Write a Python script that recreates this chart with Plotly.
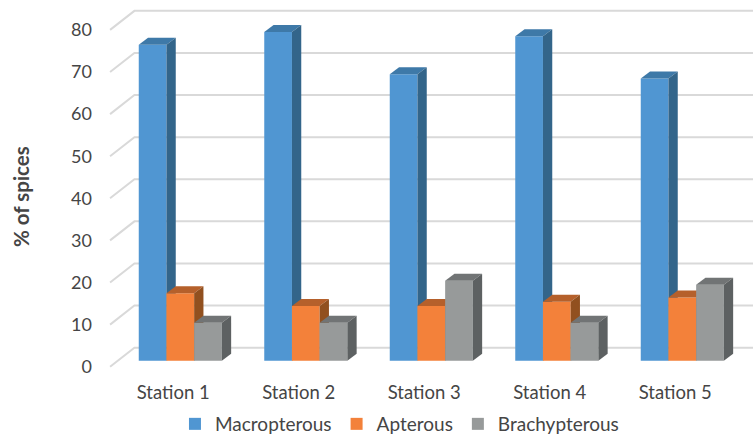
import plotly.graph_objects as go

stations = ["Station 1", "Station 2", "Station 3", "Station 4", "Station 5"]
macropterous = [75, 78, 68, 77, 67]
apterous = [16, 13, 13, 14, 15]
brachypterous = [9, 9, 19, 9, 18]
y_ticks = [0, 10, 20, 30, 40, 50, 60, 70, 80]

series = [
    ("Macropterous", macropterous, "#5096D2", "#3E79A8", "#33658A", -1),
    ("Apterous", apterous, "#F3813A", "#B5602B", "#91501F", 0),
    ("Brachypterous", brachypterous, "#979A9A", "#717475", "#5D6162", 1),
]

BAR_W = 0.2207      # bar width, in category units
DEPTH_X = 0.0741    # receding offset of a bar, in category units
DEPTH_Y = 1.66      # receding offset of a bar, in value units
WALL_X0, WALL_X1 = -0.503, -0.309   # front and back of the floor edge
WALL_RISE = 4.52                    # rise of a gridline from front to back
LAST_X = 4.7

MB = 65
PLOT_H = 437 - MB
# Base scale: tick labels and wall gridlines
X_BASE = [-173.2 / 125.5, (753 - 173.2) / 125.5]
Y_BASE = [(366.7 - PLOT_H) / 4.21, 366.7 / 4.21]
# Bar scale: the front faces sit slightly in front of the wall
X_BAR = [-180.3 / 125.5, (753 - 180.3) / 125.5]
Y_BAR = [(360.7 - PLOT_H) / 4.213, 360.7 / 4.213]

fig = go.Figure()

# Wall gridlines: a slanted run on the side wall, then flat along the back
for v in y_ticks:
    fig.add_trace(go.Scatter(
        x=[WALL_X0, WALL_X1, LAST_X],
        y=[v, v + WALL_RISE, v + WALL_RISE],
        mode="lines",
        line=dict(color="#D9D9D9", width=2),
        showlegend=False, hoverinfo="skip",
    ))

# Each series gets its own overlaid axes so later series paint over earlier ones
for n, (name, values, front, top, side, slot) in enumerate(series):
    ax = n + 2
    xa, ya = f"x{ax}", f"y{ax}"
    centers = [i + slot * BAR_W for i in range(len(stations))]
    fig.add_trace(go.Bar(
        x=centers, y=values, width=BAR_W, name=name,
        marker=dict(color=front, line=dict(width=0)),
        xaxis=xa, yaxis=ya,
    ))
    for c, v in zip(centers, values):
        l, r = c - BAR_W / 2, c + BAR_W / 2
        fig.add_trace(go.Scatter(
            x=[l, r, r + DEPTH_X, l + DEPTH_X, l],
            y=[v, v, v + DEPTH_Y, v + DEPTH_Y, v],
            fill="toself", fillcolor=top, mode="lines", line=dict(width=0),
            showlegend=False, hoverinfo="skip", xaxis=xa, yaxis=ya,
        ))
        fig.add_trace(go.Scatter(
            x=[r, r + DEPTH_X, r + DEPTH_X, r, r],
            y=[0, DEPTH_Y, v + DEPTH_Y, v, 0],
            fill="toself", fillcolor=side, mode="lines", line=dict(width=0),
            showlegend=False, hoverinfo="skip", xaxis=xa, yaxis=ya,
        ))

FONT = "Lato, sans-serif"
TEXT = "#454545"
layout = dict(
    width=753, height=437,
    margin=dict(l=0, r=0, t=0, b=MB),
    paper_bgcolor="white", plot_bgcolor="white",
    font=dict(family=FONT, color=TEXT, size=18),
    barmode="overlay",
    xaxis=dict(
        range=X_BASE, tickmode="array", tickvals=list(range(len(stations))),
        ticktext=stations, showgrid=False, zeroline=False, showline=False,
        ticks="outside", ticklen=4, tickcolor="rgba(0,0,0,0)",
        tickfont=dict(size=18.5, color=TEXT), automargin=False,
    ),
    yaxis=dict(
        range=Y_BASE, tickmode="array", tickvals=y_ticks,
        showgrid=False, zeroline=False, showline=False,
        anchor="free", position=92 / 753, ticks="",
        tickfont=dict(size=18, color=TEXT), automargin=False,
    ),
    legend=dict(
        orientation="h", x=0.5305, xanchor="center",
        yref="container", y=1 - 405 / 437, yanchor="top",
        font=dict(size=19, color=TEXT),
        bgcolor="rgba(0,0,0,0)",
    ),
    annotations=[dict(
        text="<b>% of spices</b>", textangle=-90, showarrow=False,
        xref="paper", yref="paper", x=21 / 753, y=1 - 197 / PLOT_H,
        xanchor="center", yanchor="middle",
        font=dict(size=20.5, color=TEXT),
    )],
)
for n in range(len(series)):
    ax = n + 2
    layout[f"xaxis{ax}"] = dict(range=X_BAR, overlaying="x", visible=False)
    layout[f"yaxis{ax}"] = dict(range=Y_BAR, overlaying="y", visible=False)
fig.update_layout(**layout)

fig.write_html("out.html")
